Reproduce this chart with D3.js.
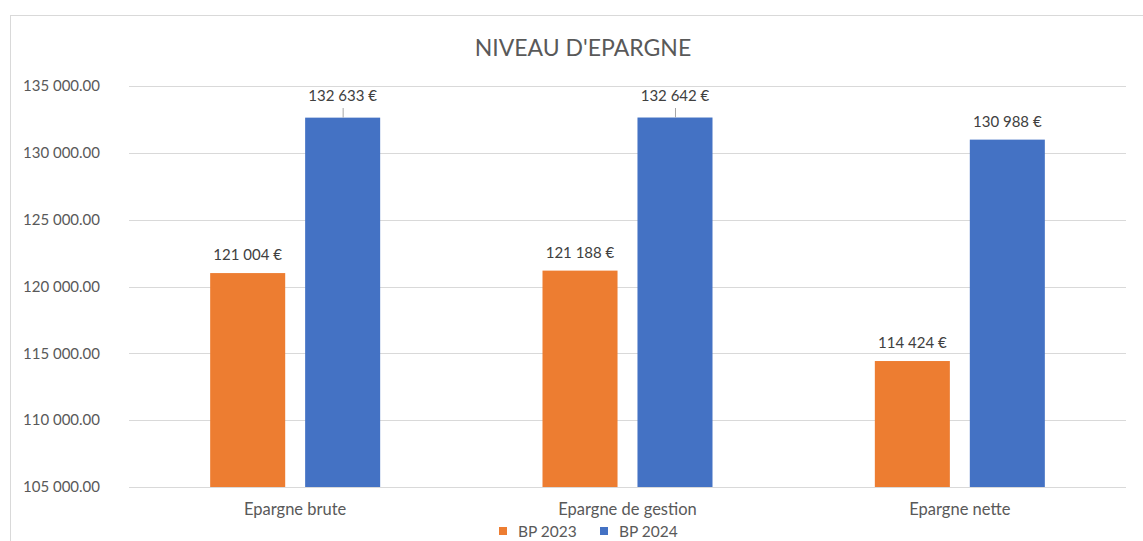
<!DOCTYPE html>
<html>
<head>
<meta charset="utf-8">
<script src="https://cdn.jsdelivr.net/npm/d3@7"></script>
<style>
  body { margin: 0; background: #fff; }
  svg { font-family: Lato, "Open Sans", sans-serif; }
</style>
</head>
<body>
<div id="chart"></div>
<script>
var categories = ["Epargne brute", "Epargne de gestion", "Epargne nette"];
var seriesNames = ["BP 2023", "BP 2024"];
var bp2023 = [121004, 121188, 114424];
var bp2024 = [132633, 132642, 130988];
var yTicks = [105000, 110000, 115000, 120000, 125000, 130000, 135000];
var colors = ["#ED7D31", "#4472C4"];

var width = 1143, height = 541;
var plot = { left: 129, right: 1126, top: 86, bottom: 487 };

var svg = d3.select("#chart").append("svg")
    .attr("width", width)
    .attr("height", height);

// cadre
svg.append("rect")
    .attr("x", 10.5).attr("y", 15.5)
    .attr("width", width).attr("height", height)
    .attr("fill", "none").attr("stroke", "#d9d9d9");

svg.append("text")
    .attr("x", 583).attr("y", 56)
    .attr("text-anchor", "middle")
    .attr("font-size", 23)
    .attr("fill", "#595959")
    .text("NIVEAU D'EPARGNE");

var x0 = d3.scaleBand().domain(categories).range([plot.left, plot.right]);
var x1 = d3.scaleBand().domain(seriesNames).range([0, 170]).paddingInner(0.21);
var y = d3.scaleLinear().domain([105000, 135000]).range([plot.bottom, plot.top]);

var fmtTick = function(v) { return d3.format(",.2f")(v).replace(/,/g, " "); };
var fmtLabel = function(v) { return d3.format(",")(v).replace(/,/g, " ") + " €"; };

// grille
svg.append("g").selectAll("line").data(yTicks).join("line")
    .attr("x1", plot.left).attr("x2", plot.right)
    .attr("y1", d => Math.round(y(d)) + 0.5).attr("y2", d => Math.round(y(d)) + 0.5)
    .attr("stroke", "#d9d9d9");

var yAxis = svg.append("g")
    .attr("transform", "translate(100,0)")
    .call(d3.axisLeft(y).tickValues(yTicks).tickFormat(fmtTick).tickSize(0).tickPadding(0));
yAxis.select(".domain").remove();
yAxis.selectAll("text").attr("font-size", 15).attr("fill", "#595959").attr("font-family", "Lato, sans-serif");

var xAxis = svg.append("g")
    .attr("transform", "translate(0," + plot.bottom + ")")
    .call(d3.axisBottom(x0).tickSize(0).tickPadding(16));
xAxis.select(".domain").remove();
xAxis.selectAll("text").attr("font-size", 16.5).attr("fill", "#595959").attr("font-family", "Lato, sans-serif");

var rows = categories.map((c, i) => ({ cat: c, vals: [bp2023[i], bp2024[i]] }));

var groups = svg.append("g").selectAll("g").data(rows).join("g")
    .attr("transform", d => "translate(" + (x0(d.cat) + x0.bandwidth() / 2 - 85) + ",0)");

var bars = groups.selectAll("g").data(d => d.vals.map((v, k) => ({ v: v, k: k }))).join("g");

bars.append("rect")
    .attr("x", d => x1(seriesNames[d.k]))
    .attr("width", x1.bandwidth())
    .attr("y", d => y(d.v))
    .attr("height", d => y(105000) - y(d.v))
    .attr("fill", d => colors[d.k]);

// etiquettes (décalées avec trait de rappel si proche du haut)
bars.each(function(d) {
    var g = d3.select(this);
    var cx = x1(seriesNames[d.k]) + x1.bandwidth() / 2;
    var top = y(d.v);
    var ly = top - 13;
    if (top < 125) {
        ly = 101;
        g.append("line")
            .attr("x1", cx + 0.5).attr("x2", cx + 0.5)
            .attr("y1", 108).attr("y2", top)
            .attr("stroke", "#a6a6a6");
    }
    g.append("text")
        .attr("x", cx).attr("y", ly)
        .attr("text-anchor", "middle")
        .attr("font-size", 15)
        .attr("fill", "#404040")
        .text(fmtLabel(d.v));
});

// légende
var legend = svg.append("g").attr("transform", "translate(499,531)");
var items = legend.selectAll("g").data(seriesNames).join("g")
    .attr("transform", (d, i) => "translate(" + (i * 101) + ",0)");
items.append("rect").attr("x", 0).attr("y", -4).attr("width", 8).attr("height", 8)
    .attr("fill", (d, i) => colors[i]);
items.append("text").attr("x", 19).attr("y", 5.5)
    .attr("font-size", 15.5).attr("fill", "#595959")
    .text(d => d);
</script>
</body>
</html>
